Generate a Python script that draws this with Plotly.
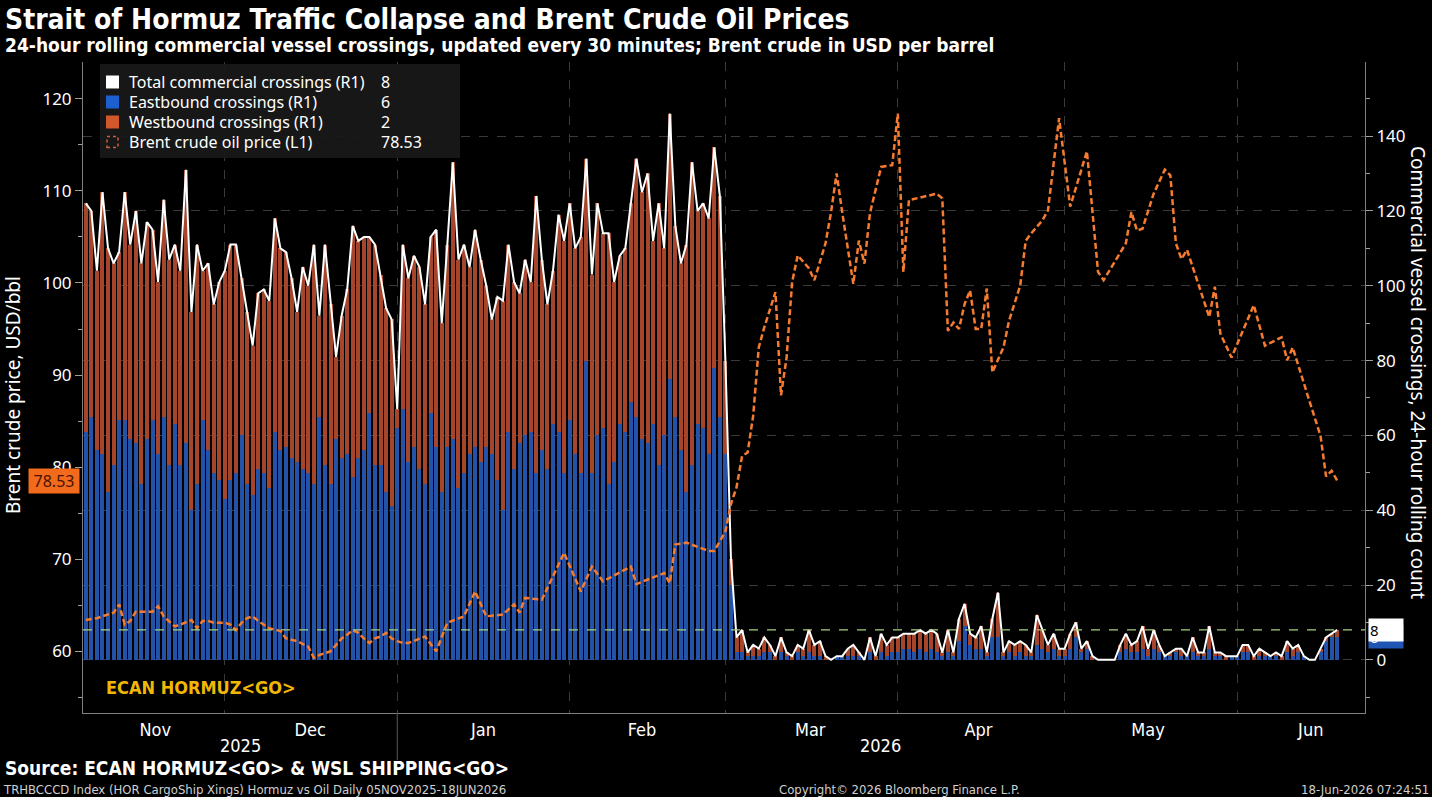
import pandas as pd
import plotly.graph_objects as go

# ---------------- data ----------------
start_date = "2025-11-05"
n_days = 226

total_crossings = [
    122, 120, 104, 125, 110, 106, 109, 125, 111, 120, 106, 117, 115, 101, 123, 107, 111, 104, 131, 93,
    111, 104, 106, 95, 101, 104, 111, 111, 102, 93, 84, 98, 99, 96, 118, 110, 109, 102, 93, 105,
    100, 111, 92, 111, 95, 81, 92, 99, 116, 112, 113, 113, 111, 103, 94, 91, 67,
    111, 102, 108, 105, 95, 113, 115, 90, 111, 133, 107, 111, 105, 115, 107, 100, 91, 97, 96, 111,
    101, 98, 107, 101, 124, 107, 95, 104, 119, 112, 122, 110, 113, 134, 103, 122, 114, 114, 101, 108,
    110, 122, 134, 125, 130, 112, 122, 110, 146, 116, 106, 111, 133, 120, 122, 118, 137, 124,
    80, 27,
    6, 8, 2, 4, 3, 6, 4, 1, 6, 2, 1, 4, 3, 8, 4, 5, 1, 0, 1, 1, 3, 4, 2, 0, 6, 1, 7, 4, 6, 6,
    7, 7, 7, 8, 7, 8, 7, 2, 8, 2, 11, 15, 7, 6, 9, 2, 11, 18, 2, 5, 4, 5, 4, 2, 12, 8,
    4, 7, 3, 3, 7, 10, 3, 5, 1, 0, 0, 0, 0, 4, 7, 4, 5, 9, 3, 8, 4, 1, 2, 3, 3, 1, 6, 2, 2, 9,
    2, 2, 1, 1, 1, 4, 4, 1, 3, 2, 1, 2, 1, 5, 3, 4, 1, 0, 0, 3, 6, 7, 8,
]

eastbound = [
    61, 65, 56, 55, 45, 52, 64, 64, 59, 58, 47, 59, 64, 55, 65, 52, 63, 52, 58, 40,
    47, 64, 56, 50, 48, 43, 48, 50, 60, 47, 44, 51, 50, 46, 61, 56, 57, 54, 53, 51,
    50, 47, 65, 52, 47, 59, 54, 55, 49, 54, 56, 66, 52, 52, 45, 41, 62,
    67, 53, 57, 51, 47, 66, 57, 45, 57, 59, 46, 50, 55, 57, 53, 57, 55, 48, 40, 61,
    51, 58, 60, 61, 50, 56, 51, 63, 61, 50, 64, 55, 50, 80, 50, 60, 62, 47, 53, 63,
    61, 69, 65, 59, 58, 63, 52, 60, 75, 65, 56, 45, 52, 63, 62, 55, 78, 65,
    55, 20,
    2, 2, 1, 1, 1, 2, 2, 0, 2, 1, 0, 2, 1, 2, 1, 1, 0, 0, 1, 1, 1, 1, 1, 0, 2, 0, 2, 1, 2, 2,
    3, 3, 2, 3, 2, 3, 2, 1, 2, 1, 5, 9, 4, 3, 3, 1, 6, 6, 1, 2, 1, 2, 1, 1, 4, 3,
    2, 3, 1, 1, 3, 6, 2, 3, 0, 0, 0, 0, 0, 2, 3, 2, 2, 3, 1, 3, 2, 1, 1, 2, 1, 1, 2, 1, 1, 3,
    1, 1, 0, 1, 1, 2, 2, 0, 1, 1, 1, 1, 0, 2, 1, 2, 1, 0, 0, 2, 5, 6, 6,
]

brent_day = [
    0, 2, 5, 6, 7, 8, 9, 11, 12, 13, 14, 16, 17, 19, 20, 21, 22, 23, 25, 26,
    27, 28, 29, 30, 31, 33, 35, 36, 38, 40, 41, 42, 44, 46, 47, 48, 49, 50, 51, 52,
    53, 54, 55, 56, 57, 58,
    61, 63, 65, 68, 70, 72, 75, 77, 78, 79, 82, 86, 89, 91, 93, 98, 99, 104, 105, 106,
    108, 112, 113,
    115, 116, 117, 118, 119, 120, 121, 122, 124, 125, 126, 127, 128, 130, 131, 133, 134, 135, 136, 138,
    139, 140, 141, 143, 145, 146, 147, 148, 153, 154, 155, 156, 157, 158, 159, 160, 161, 162, 163, 165,
    166, 168, 169, 170, 172, 173,
    175, 177, 180, 182, 183, 187, 188, 189, 190, 192, 194, 195, 196, 197, 198, 202, 203, 204, 206, 210,
    212, 215, 216, 217, 220, 222, 223, 224, 225,
]
brent_price = [
    63.4, 63.6, 64.2, 65.1, 62.9, 63.3, 64.3, 64.3, 64.3, 64.9, 63.8, 62.7, 62.9, 63.4, 62.5, 63.3, 63.3, 63.1, 63.1, 62.9,
    62.3, 63.1, 63.6, 63.8, 63.3, 62.5, 62.2, 61.4, 61.1, 60.5, 59.3, 59.6, 60.0, 61.4, 61.8, 62.3, 62.0, 61.4, 60.9, 61.4,
    61.6, 62.0, 61.4, 61.1, 60.9, 60.9,
    61.6, 60.0, 63.1, 63.8, 66.5, 63.8, 64.0, 65.1, 64.2, 65.8, 65.6, 70.7, 66.5, 69.2, 67.6, 69.2, 67.3, 68.5, 67.4, 71.6,
    71.8, 70.9, 70.9,
    73.0, 76.0, 77.8, 81.2, 81.6, 85.6, 93.0, 95.2, 99.0, 87.8, 91.9, 100.1, 103.0, 101.6, 100.3, 104.3, 107.7, 111.9, 107.7, 99.9,
    104.6, 102.1, 107.6, 112.6, 112.8, 118.4, 101.2, 109.0, 109.7, 109.2, 94.8, 95.7, 95.0, 97.7, 99.2, 95.0, 95.0, 99.4, 90.3, 93.0,
    95.9, 99.7, 104.6, 105.4, 106.8, 107.9,
    117.9, 108.3, 114.3, 101.2, 100.3, 104.3, 107.7, 105.7, 105.9, 109.7, 112.3, 111.7, 104.3, 102.6, 103.6, 96.3, 99.6, 94.5, 91.9, 97.6,
    93.2, 94.1, 91.6, 93.0, 87.2, 83.4, 79.0, 79.6, 78.53,
]

legend_labels = ["Total commercial crossings (R1)", "Eastbound crossings (R1)",
                 "Westbound crossings (R1)", "Brent crude oil price (L1)"]
legend_values = ["8", "6", "2", "78.53"]
month_labels = ["Nov", "Dec", "Jan", "Feb", "Mar", "Apr", "May", "Jun"]
month_label_dates = ["2025-11-18 12:00", "2025-12-16 08:00", "2026-01-16 12:00", "2026-02-14",
                     "2026-03-16 06:00", "2026-04-15 12:00", "2026-05-16", "2026-06-14 06:00"]
year_labels = ["2025", "2026"]

# ---------------- derived ----------------
dates = pd.date_range(start_date, periods=n_days, freq="D")
westbound = [t - e for t, e in zip(total_crossings, eastbound)]
brent_dates = pd.Timestamp(start_date) + pd.to_timedelta(brent_day, unit="D")

BLUE = "#2352a8"
RED = "#a5452b"
ORANGE = "#f47b2f"
GRID = "#3a3a3a"
AXIS = "#808080"
FONT = "Noto Sans, Open Sans, sans-serif"
COND = "DejaVu Sans Condensed, Liberation Sans Narrow, DejaVu Sans, sans-serif"
DAY_MS = 86400000

fig = go.Figure()
fig.add_trace(go.Bar(x=dates, y=eastbound, marker=dict(color=BLUE, line=dict(width=0)),
                     xperiod=DAY_MS, xperiodalignment="end", yaxis="y", name=legend_labels[1]))
fig.add_trace(go.Bar(x=dates, y=westbound, marker=dict(color=RED, line=dict(width=0)),
                     xperiod=DAY_MS, xperiodalignment="end", yaxis="y", name=legend_labels[2]))
fig.add_trace(go.Scatter(x=dates, y=total_crossings, mode="lines",
                         line=dict(color="white", width=2),
                         xperiod=DAY_MS, xperiodalignment="end", yaxis="y", name=legend_labels[0]))
fig.add_trace(go.Scatter(x=brent_dates, y=brent_price, mode="lines",
                         line=dict(color=ORANGE, width=2.5, dash="6px,3px"),
                         xperiod=DAY_MS, xperiodalignment="end", yaxis="y2", name=legend_labels[3]))

# plot area geometry (pixels) used to place paper-referenced decorations
L, R, T, B = 83, 1365, 62, 713
W, H = R - L, B - T


def px(x):
    return (x - L) / W


def py(y):
    return (B - y) / H


fig.update_layout(
    width=1432, height=797,
    margin=dict(l=L, r=1432 - R, t=T, b=797 - B, pad=0),
    paper_bgcolor="black", plot_bgcolor="black",
    barmode="stack", bargap=0.28,
    showlegend=False,
    font=dict(family=FONT, color="white", size=16),
    xaxis=dict(
        type="date", range=["2025-11-05 12:00", "2026-06-24"],
        tickmode="array", tickvals=month_label_dates, ticktext=month_labels,
        showgrid=False, ticks="", ticklen=0,
        minor=dict(tick0="2025-11-01", dtick="M1", showgrid=True, gridcolor=GRID, griddash="dash",
                   gridwidth=1, ticks=""),
        showline=True, linecolor=AXIS, linewidth=1, zeroline=False,
        tickfont=dict(family=COND, size=18, color="white"),
    ),
    yaxis=dict(
        side="right", range=[-14.2, 159.8], tick0=0, dtick=20,
        showgrid=True, gridcolor=GRID, griddash="dash", gridwidth=1, zeroline=False,
        showline=True, linecolor=AXIS, linewidth=1,
        ticks="outside", ticklen=7, tickcolor="#a0a0a0",
        minor=dict(ticks="outside", ticklen=4, dtick=10, tickcolor="#a0a0a0", showgrid=False),
        tickfont=dict(family=FONT, size=17, color="white"),
    ),
    yaxis2=dict(
        side="left", overlaying="y", anchor="x", range=[53.3, 124.0], tick0=0, dtick=10,
        showgrid=False, zeroline=False,
        showline=True, linecolor=AXIS, linewidth=1,
        ticks="outside", ticklen=7, tickcolor="#a0a0a0",
        minor=dict(ticks="outside", ticklen=4, dtick=5, tickcolor="#a0a0a0", showgrid=False),
        tickfont=dict(family=FONT, size=17, color="white"),
    ),
)

shapes = []
# legend box
shapes.append(dict(type="rect", xref="paper", yref="paper", x0=px(100), x1=px(460), y0=py(158), y1=py(64),
                   fillcolor="rgba(24,24,24,0.95)", line=dict(width=0), layer="above"))
sq_colors = ["white", "#1d5fd0", "#d0582a"]
row_y = [82, 102, 122, 142]
for c, yy in zip(sq_colors, row_y[:3]):
    shapes.append(dict(type="rect", xref="paper", yref="paper", x0=px(106), x1=px(119),
                       y0=py(yy + 6.5), y1=py(yy - 6.5), fillcolor=c, line=dict(width=0), layer="above"))
shapes.append(dict(type="rect", xref="paper", yref="paper", x0=px(107), x1=px(118),
                   y0=py(row_y[3] + 5.5), y1=py(row_y[3] - 5.5), fillcolor="rgba(0,0,0,0)",
                   line=dict(color="#d0603a", width=1.5, dash="dot"), layer="above"))
# latest-value line for the crossings
shapes.append(dict(type="line", xref="paper", yref="y", x0=0, x1=1, y0=total_crossings[-1], y1=total_crossings[-1],
                   line=dict(color="#a8d07c", width=1.2, dash="dash"), layer="above"))
# year separator under axis
shapes.append(dict(type="line", xref="x", yref="paper", x0="2026-01-01", x1="2026-01-01", y0=0, y1=py(760),
                   line=dict(color="#5a5a5a", width=1)))
fig.update_layout(shapes=shapes)

ann = []
ann.append(dict(text="<b>Strait of Hormuz Traffic Collapse and Brent Crude Oil Prices</b>",
                xref="paper", yref="paper", x=px(3), y=py(19), xanchor="left", yanchor="middle",
                showarrow=False, font=dict(family=COND, size=28, color="white")))
ann.append(dict(text="<b>24-hour rolling commercial vessel crossings, updated every 30 minutes; Brent crude in USD per barrel</b>",
                xref="paper", yref="paper", x=px(3), y=py(45), xanchor="left", yanchor="middle",
                showarrow=False, font=dict(family=COND, size=19, color="white")))
ann.append(dict(text="Brent crude price, USD/bbl", textangle=-90,
                xref="paper", yref="paper", x=px(13), y=py(395), xanchor="center", yanchor="middle",
                showarrow=False, font=dict(family=FONT, size=19, color="white")))
ann.append(dict(text="Commercial vessel crossings, 24-hour rolling count", textangle=90,
                xref="paper", yref="paper", x=px(1418), y=py(372), xanchor="center", yanchor="middle",
                showarrow=False, font=dict(family=FONT, size=19, color="white")))
for lab, xc in zip(year_labels, [240, 880]):
    ann.append(dict(text=lab, xref="paper", yref="paper", x=px(xc), y=py(745), xanchor="center",
                    yanchor="middle", showarrow=False, font=dict(family=COND, size=18, color="white")))
ann.append(dict(text="<b>ECAN HORMUZ&lt;GO&gt;</b>", xref="paper", yref="paper", x=px(104), y=py(687),
                xanchor="left", yanchor="middle", showarrow=False,
                font=dict(family=COND, size=18, color="#f2b705")))
ann.append(dict(text="<b>Source: ECAN HORMUZ&lt;GO&gt; &amp; WSL SHIPPING&lt;GO&gt;</b>", xref="paper", yref="paper",
                x=px(3), y=py(768), xanchor="left", yanchor="middle", showarrow=False,
                font=dict(family=COND, size=19, color="white")))
ann.append(dict(text="TRHBCCCD Index (HOR CargoShip Xings) Hormuz vs Oil Daily 05NOV2025-18JUN2026",
                xref="paper", yref="paper", x=px(1), y=py(789), xanchor="left", yanchor="middle",
                showarrow=False, font=dict(family=COND, size=13, color="#d0d0d0")))
ann.append(dict(text="Copyright© 2026 Bloomberg Finance L.P.", xref="paper", yref="paper", x=px(900), y=py(789),
                xanchor="center", yanchor="middle", showarrow=False,
                font=dict(family=COND, size=13, color="#d0d0d0")))
ann.append(dict(text="18-Jun-2026 07:24:51", xref="paper", yref="paper", x=px(1431), y=py(789),
                xanchor="right", yanchor="middle", showarrow=False,
                font=dict(family=COND, size=13, color="#d0d0d0")))
# legend text
for lab, val, yy in zip(legend_labels, legend_values, row_y):
    ann.append(dict(text=lab, xref="paper", yref="paper", x=px(127), y=py(yy), xanchor="left",
                    yanchor="middle", showarrow=False, font=dict(family=FONT, size=16, color="white")))
    ann.append(dict(text=val, xref="paper", yref="paper", x=px(379), y=py(yy), xanchor="left",
                    yanchor="middle", showarrow=False, font=dict(family=FONT, size=16, color="white")))
# value tags
ann.append(dict(text=str(eastbound[-1]), xref="paper", yref="y", x=1, y=eastbound[-1], xanchor="left",
                yanchor="middle", xshift=3, showarrow=False, bgcolor="#1f55b5", width=32, align="left",
                font=dict(family=FONT, size=15, color="white")))
ann.append(dict(text=str(total_crossings[-1]), xref="paper", yref="y", x=1, y=total_crossings[-1], xanchor="left",
                yanchor="middle", xshift=3, showarrow=False, bgcolor="white", width=32, align="left",
                font=dict(family=FONT, size=15, color="black")))
ann.append(dict(text=f"{brent_price[-1]:.2f}", xref="paper", yref="y2", x=0, y=brent_price[-1], xanchor="right",
                yanchor="middle", xshift=-3, showarrow=False, bgcolor="#f26a1b", width=48, align="center",
                font=dict(family=FONT, size=16, color="#4a1200")))
fig.update_layout(annotations=ann)

fig.write_html("out.html")
